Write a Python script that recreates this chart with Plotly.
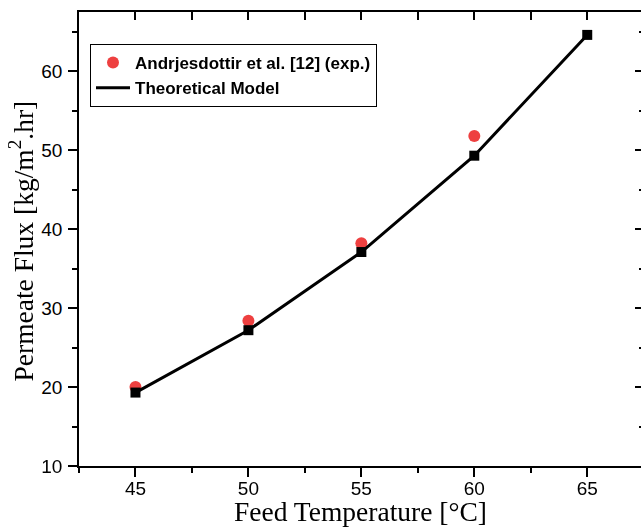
import plotly.graph_objects as go

# ---- data ----
temp_exp = [45, 50, 55, 60]
flux_exp = [20.0, 28.4, 38.2, 51.8]
temp_model = [45, 50, 55, 60, 65]
flux_model = [19.3, 27.2, 37.1, 49.3, 64.6]
x_ticks = [45, 50, 55, 60, 65]
y_ticks = [10, 20, 30, 40, 50, 60]
exp_label = "Andrjesdottir et al. [12] (exp.)"
model_label = "Theoretical Model"
x_title = "Feed Temperature [°C]"
y_title = "Permeate Flux [kg/m<sup>2</sup>.hr]"

W, H = 641, 528
ML, MR, MT, MB = 79, 0, 12, 62
XR = [42.5, 67.38]
YR = [10, 67.5]
PW, PH = W - ML - MR, H - MT - MB

tick_font = dict(family="Liberation Sans, Arial", size=19, color="black")
title_font = dict(family="Liberation Serif, Times New Roman", size=27.5, color="black")

fig = go.Figure()
fig.add_trace(go.Scatter(
    x=temp_exp, y=flux_exp, mode="markers", name=exp_label,
    marker=dict(symbol="circle", size=12, color="#EE4040"),
))
fig.add_trace(go.Scatter(
    x=temp_model, y=flux_model, mode="lines", name=model_label,
    line=dict(color="black", width=3),
))
fig.add_trace(go.Scatter(
    x=temp_model, y=flux_model, mode="markers", showlegend=False,
    marker=dict(symbol="square", size=10, color="black"),
))
# carrier for the mirrored (top / right) axes
fig.add_trace(go.Scatter(
    x=temp_model, y=flux_model, mode="markers", showlegend=False,
    xaxis="x2", yaxis="y2", opacity=0, hoverinfo="skip",
))

fig.update_layout(
    width=W, height=H,
    margin=dict(l=ML, r=MR, t=MT, b=MB),
    paper_bgcolor="white", plot_bgcolor="white",
    showlegend=True,
    legend=dict(
        x=(90 - ML) / PW, y=(466 - 44) / PH,
        xanchor="left", yanchor="top",
        bordercolor="black", borderwidth=1, bgcolor="white",
        font=dict(family="Liberation Sans, Arial", size=17, color="black", weight="bold"),
        itemwidth=34, tracegroupgap=0,
    ),
    xaxis=dict(
        range=XR, tickvals=x_ticks, ticks="outside", ticklen=9, tickwidth=1.5,
        tickcolor="black", showline=True, linewidth=1.5, linecolor="black",
        showgrid=False, zeroline=False, tickfont=tick_font, ticklabelstandoff=-5,
        minor=dict(dtick=2.5, tick0=42.5, ticks="outside", ticklen=5, tickwidth=1.5, tickcolor="black", showgrid=False),
    ),
    yaxis=dict(
        range=YR, tickvals=y_ticks, ticks="outside", ticklen=9, tickwidth=1.5,
        tickcolor="black", showline=True, linewidth=1.5, linecolor="black",
        showgrid=False, zeroline=False, tickfont=tick_font, ticklabelstandoff=2,
        minor=dict(dtick=5, tick0=10, ticks="outside", ticklen=5, tickwidth=1.5, tickcolor="black", showgrid=False),
    ),
    xaxis2=dict(
        overlaying="x", side="top", anchor="y", range=XR, dtick=2.5, tick0=42.5,
        ticks="inside", ticklen=8, tickwidth=1.5, tickcolor="black",
        showline=True, linewidth=1.5, linecolor="black",
        showgrid=False, zeroline=False, showticklabels=False,
    ),
    yaxis2=dict(
        overlaying="y", side="right", anchor="x", range=YR, tickvals=y_ticks,
        ticks="inside", ticklen=6, tickwidth=1.5, tickcolor="black",
        showline=False, showgrid=False, zeroline=False, showticklabels=False,
        minor=dict(dtick=5, tick0=10, ticks="inside", ticklen=2, tickwidth=1.5, tickcolor="black", showgrid=False),
    ),
    annotations=[
        dict(text=x_title, xref="paper", yref="paper", x=0.5, y=-46 / PH,
             xanchor="center", yanchor="middle", showarrow=False, font=title_font),
        dict(text=y_title, xref="paper", yref="paper", x=(22 - ML) / PW,
             y=(466 - 241.5) / PH, textangle=-90,
             xanchor="center", yanchor="middle", showarrow=False, font=title_font),
    ],
)

fig.write_html("out.html")
